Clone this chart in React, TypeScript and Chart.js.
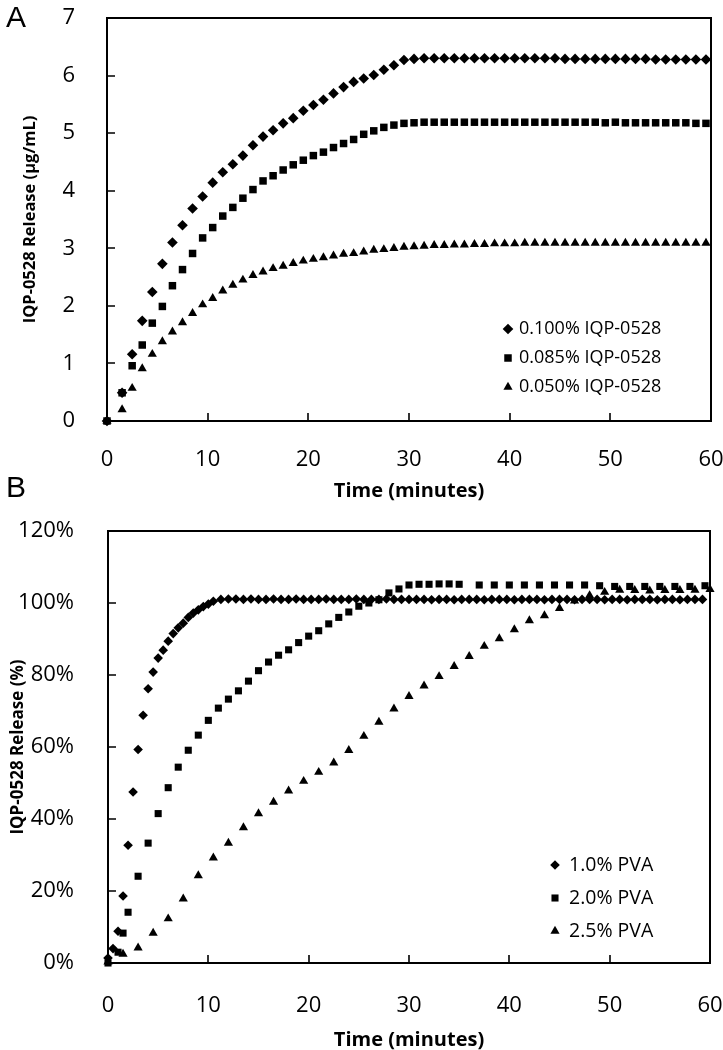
import React, { useEffect, useRef } from 'react';
import { Chart, registerables } from 'chart.js';
import { drawPoint } from 'chart.js/helpers';

Chart.register(...registerables);

// ---------- Panel A data (µg/mL) ----------
const TIME_A = [0, 1.5, 2.5, 3.5, 4.5, 5.5, 6.5, 7.5, 8.5, 9.5, 10.5, 11.5, 12.5, 13.5, 14.5, 15.5, 16.5, 17.5, 18.5, 19.5,
  20.5, 21.5, 22.5, 23.5, 24.5, 25.5, 26.5, 27.5, 28.5, 29.5, 30.5, 31.5, 32.5, 33.5, 34.5, 35.5, 36.5, 37.5, 38.5, 39.5,
  40.5, 41.5, 42.5, 43.5, 44.5, 45.5, 46.5, 47.5, 48.5, 49.5, 50.5, 51.5, 52.5, 53.5, 54.5, 55.5, 56.5, 57.5, 58.5, 59.5];
const IQP_100 = [0, 0.49, 1.16, 1.74, 2.24, 2.73, 3.10, 3.40, 3.69, 3.90, 4.14, 4.32, 4.46, 4.61, 4.79, 4.94, 5.05, 5.17, 5.26, 5.39,
  5.49, 5.58, 5.69, 5.80, 5.89, 5.95, 6.01, 6.10, 6.18, 6.27, 6.29, 6.30, 6.30, 6.30, 6.30, 6.30, 6.30, 6.30, 6.30, 6.30,
  6.30, 6.30, 6.30, 6.30, 6.30, 6.29, 6.29, 6.29, 6.29, 6.29, 6.29, 6.29, 6.29, 6.29, 6.28, 6.28, 6.28, 6.28, 6.28, 6.28];
const IQP_085 = [0, 0.49, 0.96, 1.32, 1.70, 1.99, 2.35, 2.63, 2.91, 3.18, 3.36, 3.56, 3.71, 3.87, 4.02, 4.17, 4.26, 4.36, 4.45, 4.53,
  4.61, 4.67, 4.75, 4.82, 4.89, 4.98, 5.04, 5.10, 5.14, 5.17, 5.18, 5.19, 5.19, 5.19, 5.19, 5.19, 5.19, 5.19, 5.19, 5.19,
  5.19, 5.19, 5.19, 5.19, 5.19, 5.19, 5.19, 5.19, 5.19, 5.18, 5.19, 5.18, 5.18, 5.18, 5.18, 5.18, 5.18, 5.18, 5.17, 5.17];
const IQP_050 = [0, 0.20, 0.57, 0.91, 1.16, 1.38, 1.55, 1.71, 1.87, 2.02, 2.13, 2.26, 2.36, 2.45, 2.53, 2.59, 2.65, 2.69, 2.74, 2.78,
  2.81, 2.84, 2.87, 2.90, 2.91, 2.94, 2.97, 2.98, 3.00, 3.02, 3.03, 3.04, 3.05, 3.05, 3.06, 3.06, 3.07, 3.07, 3.08, 3.08,
  3.08, 3.09, 3.09, 3.09, 3.09, 3.09, 3.09, 3.09, 3.09, 3.09, 3.09, 3.09, 3.09, 3.09, 3.09, 3.09, 3.09, 3.09, 3.09, 3.09];
const LABELS_A = ['0.100% IQP-0528', '0.085% IQP-0528', '0.050% IQP-0528'];

// ---------- Panel B data (% release) ----------
const TIME_PVA10 = [0, 0.5, 1, 1.5, 2, 2.5, 3, 3.5, 4, 4.5, 5, 5.5, 6, 6.5, 7, 7.5, 8, 8.5, 9, 9.5, 10, 10.5,
  11.25, 12, 12.75, 13.5, 14.25, 15, 15.75, 16.5, 17.25, 18, 18.75, 19.5, 20.25, 21, 21.75, 22.5, 23.25, 24, 24.75,
  25.5, 26.25, 27, 27.75, 28.5, 29.25, 30, 30.75, 31.5, 32.25, 33, 33.75, 34.5, 35.25, 36, 36.75, 37.5, 38.25, 39,
  39.75, 40.5, 41.25, 42, 42.75, 43.5, 44.25, 45, 45.75, 46.5, 47.25, 48, 48.75, 49.5, 50.25, 51, 51.75, 52.5, 53.25,
  54, 54.75, 55.5, 56.25, 57, 57.75, 58.5, 59.25];
const PVA10 = [1.4, 4.0, 8.8, 18.6, 32.7, 47.5, 59.3, 68.8, 76.2, 80.8, 84.7, 86.9, 89.4, 91.5, 93.1, 94.4, 96.0, 97.2, 98.1, 99.0, 99.7, 100.5,
  101.0, 101.1, 101.1, 101.0, 101.1, 101.0, 101.0, 101.1, 101.0, 101.0, 101.1, 101.0, 101.0,
  101.0, 101.1, 101.0, 101.0, 101.0, 101.1, 101.0, 101.0, 101.0, 101.1, 101.0, 101.0, 101.0,
  101.0, 101.0, 100.9, 101.0, 101.0, 100.9, 101.0, 101.0, 101.0, 100.9, 101.0, 101.0, 101.0,
  100.9, 101.0, 101.0, 101.0, 100.9, 101.0, 101.0, 101.0, 100.9, 101.0, 101.0, 101.0, 100.9,
  101.0, 101.0, 100.9, 101.0, 101.0, 101.0, 100.9, 101.0, 101.0, 100.9, 101.0, 101.0, 101.0];
const TIME_PVA20 = [0, 1, 1.5, 2, 3, 4, 5, 6, 7, 8, 9, 10, 11, 12, 13, 14, 15, 16, 17, 18, 19, 20, 21, 22, 23, 24, 25, 26, 27, 28,
  29, 30, 31, 32, 33, 34, 35, 37, 38.5, 40, 41.5, 43, 44.5, 46, 47.5, 49, 50.5, 52, 53.5, 55, 56.5, 58, 59.5];
const PVA20 = [0.0, 3.0, 8.3, 14.1, 24.1, 33.3, 41.5, 48.7, 54.4, 59.1, 63.3, 67.4, 70.8, 73.3, 75.6, 78.3, 81.2, 83.6, 85.5, 87.0,
  89.0, 90.8, 92.3, 94.2, 96.0, 97.5, 99.1, 100.0, 100.9, 102.8, 103.9, 105.0, 105.2, 105.2, 105.3, 105.3, 105.2,
  105.0, 105.0, 105.0, 105.0, 105.0, 105.0, 105.0, 105.0, 104.8, 104.6, 104.6, 104.6, 104.6, 104.6, 104.6, 104.8];
const TIME_PVA25 = [0, 1.5, 3, 4.5, 6, 7.5, 9, 10.5, 12, 13.5, 15, 16.5, 18, 19.5, 21, 22.5, 24, 25.5, 27, 28.5, 30,
  31.5, 33, 34.5, 36, 37.5, 39, 40.5, 42, 43.5, 45, 46.5, 48, 49.5, 51, 52.5, 54, 55.5, 57, 58.5, 60];
const PVA25 = [0.3, 2.5, 4.2, 8.3, 12.3, 17.8, 24.3, 29.2, 33.3, 37.6, 41.5, 44.7, 47.8, 50.5, 53.0, 55.6, 59.1, 63.0, 66.9, 70.6, 74.1,
  77.0, 79.6, 82.4, 85.2, 88.0, 90.1, 92.6, 95.1, 96.5, 98.5, 100.6, 102.1, 103.0, 103.6, 103.5, 103.4, 103.5, 103.5, 103.6, 103.8];
const LABELS_B = ['1.0% PVA', '2.0% PVA', '2.5% PVA'];

const X_TICKS = [0, 10, 20, 30, 40, 50, 60];

const FONT = '"Open Sans", sans-serif';
Chart.defaults.font.family = FONT;
Chart.defaults.color = '#000';

const pts = (xs: number[], ys: number[]) => xs.map((x, i) => ({ x, y: ys[i] }));

const framePlugin = {
  id: 'frame',
  beforeDatasetsDraw(chart: any) {
    const { ctx, chartArea: a, scales } = chart;
    ctx.save();
    ctx.strokeStyle = '#000';
    ctx.lineWidth = 2;
    ctx.strokeRect(a.left, a.top, a.right - a.left, a.bottom - a.top);
    ctx.lineWidth = 1.6;
    const tl = 8;
    ctx.beginPath();
    scales.x.ticks.forEach((t: any) => {
      if (t.value > scales.x.min && t.value < scales.x.max) {
        const px = Math.round(scales.x.getPixelForValue(t.value));
        ctx.moveTo(px, a.bottom);
        ctx.lineTo(px, a.bottom - tl);
      }
    });
    scales.y.ticks.forEach((t: any) => {
      if (t.value > scales.y.min && t.value < scales.y.max) {
        const py = Math.round(scales.y.getPixelForValue(t.value));
        ctx.moveTo(a.left, py);
        ctx.lineTo(a.left + tl, py);
      }
    });
    ctx.stroke();
    ctx.restore();
  },
};

const legendPlugin = {
  id: 'markerLegend',
  afterDraw(chart: any, _args: any, opts: any) {
    const { ctx } = chart;
    ctx.save();
    ctx.fillStyle = '#000';
    ctx.textBaseline = 'middle';
    ctx.textAlign = 'left';
    ctx.font = `${opts.fontSize}px ${FONT}`;
    chart.data.datasets.forEach((ds: any, i: number) => {
      const y = opts.rows[i];
      drawPoint(ctx, { pointStyle: ds.pointStyle, radius: ds.pointRadius, rotation: 0, borderWidth: 0 } as any, opts.markerX, y);
      ctx.fillText(ds.label, opts.textX, y);
    });
    ctx.restore();
  },
};

function makeConfig(p: any) {
  return {
    type: 'scatter',
    data: { datasets: p.datasets },
    plugins: [framePlugin, legendPlugin],
    options: {
      responsive: false,
      animation: false,
      events: [],
      layout: { padding: p.padding },
      plugins: {
        legend: { display: false },
        tooltip: { enabled: false },
        markerLegend: p.legend,
      },
      scales: {
        x: {
          type: 'linear',
          min: 0,
          max: 60,
          afterBuildTicks: (s: any) => { s.ticks = X_TICKS.map((v) => ({ value: v })); },
          grid: { display: false },
          border: { display: false },
          ticks: { font: { size: 22 }, color: '#000', padding: p.xTickPad, maxRotation: 0 },
          title: { display: true, text: 'Time (minutes)', color: '#000', font: { size: 20, weight: 'bold', lineHeight: 1 }, padding: { top: 0, bottom: p.xTitlePad } },
          afterFit: (s: any) => { s.height = p.xHeight; s.paddingLeft = 0; s.paddingRight = 0; },
        },
        y: {
          type: 'linear',
          min: 0,
          max: p.yMax,
          afterBuildTicks: (s: any) => { s.ticks = p.yTicks.map((v: number) => ({ value: v })); },
          grid: { display: false },
          border: { display: false },
          ticks: { font: { size: 22 }, color: '#000', padding: p.yTickPad, callback: p.yFmt },
          title: { display: true, text: p.yTitle, color: '#000', font: { size: p.yTitleSize, weight: 'bold' }, padding: { top: p.yTitlePad, bottom: 0 } },
          afterFit: (s: any) => { s.width = p.yWidth; s.paddingTop = 0; s.paddingBottom = 0; },
        },
      },
    },
  };
}

function ds(label: string, data: any, style: string, r: number) {
  return {
    label, data, pointStyle: style, pointRadius: r, pointBorderWidth: 0,
    backgroundColor: '#000', borderColor: '#000', pointBackgroundColor: '#000', clip: false, showLine: false,
  };
}

const CONFIG_A = () => makeConfig({
  datasets: [
    ds(LABELS_A[0], pts(TIME_A, IQP_100), 'rectRot', 5.3),
    ds(LABELS_A[1], pts(TIME_A, IQP_085), 'rect', 5.3),
    ds(LABELS_A[2], pts(TIME_A, IQP_050), 'triangle', 5.3),
  ],
  padding: { top: 18, right: 12, bottom: 4, left: 0 },
  legend: { markerX: 508, textX: 519, rows: [329, 358, 387], fontSize: 18 },
  xTickPad: 18, xTitlePad: 5, xHeight: 85,
  yMax: 7, yTicks: [0, 1, 2, 3, 4, 5, 6, 7], yFmt: (v: any) => String(v),
  yTickPad: 24, yTitle: 'IQP-0528 Release (\u03bcg/mL)', yTitleSize: 16.5, yTitlePad: 20, yWidth: 107,
});

const CONFIG_B = () => makeConfig({
  datasets: [
    ds(LABELS_B[0], pts(TIME_PVA10, PVA10), 'rectRot', 4.8),
    ds(LABELS_B[1], pts(TIME_PVA20, PVA20), 'rect', 5.0),
    ds(LABELS_B[2], pts(TIME_PVA25, PVA25), 'triangle', 5.3),
  ],
  padding: { top: 26, right: 13, bottom: 0, left: 0 },
  legend: { markerX: 555, textX: 569, rows: [360, 393, 426], fontSize: 19.5 },
  xTickPad: 22, xTitlePad: 0, xHeight: 87,
  yMax: 120, yTicks: [0, 20, 40, 60, 80, 100, 120], yFmt: (v: any) => v + '%',
  yTickPad: 26, yTitle: 'IQP-0528 Release (%)', yTitleSize: 17, yTitlePad: 8, yWidth: 108,
});

function Panel({ top, height, build }: { top: number; height: number; build: () => any }) {
  const ref = useRef<HTMLCanvasElement>(null);
  useEffect(() => {
    const chart = new Chart(ref.current as HTMLCanvasElement, build());
    return () => chart.destroy();
  }, []);
  return (
    <canvas
      ref={ref}
      width={723}
      height={height}
      style={{ position: 'absolute', left: 0, top, width: 723, height, display: 'block' }}
    />
  );
}

const letterStyle: React.CSSProperties = {
  position: 'absolute', left: 6, fontFamily: '"Liberation Sans", Arial, sans-serif', fontSize: 30, lineHeight: 1, color: '#000',
};

export default function App() {
  return (
    <div style={{ position: 'absolute', left: 0, top: 0, width: 723, height: 1050, overflow: 'hidden', background: '#fff' }}>
      <Panel top={0} height={510} build={CONFIG_A} />
      <Panel top={505} height={545} build={CONFIG_B} />
      <div style={{ ...letterStyle, top: 2 }}>A</div>
      <div style={{ ...letterStyle, top: 472 }}>B</div>
    </div>
  );
}
